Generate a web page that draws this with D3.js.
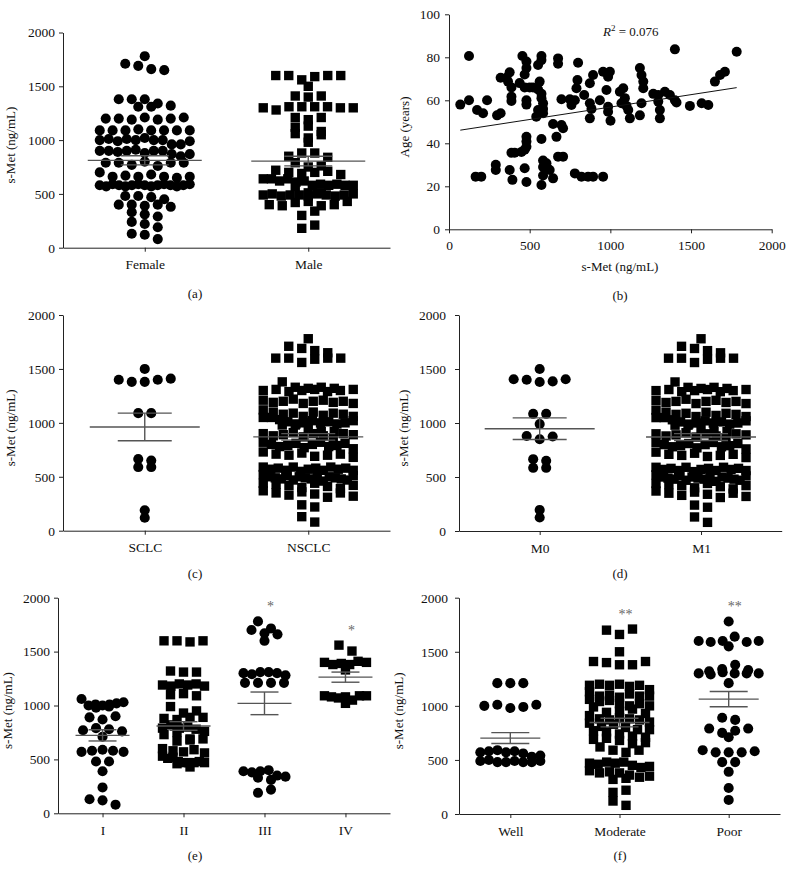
<!DOCTYPE html>
<html>
<head>
<meta charset="utf-8">
<script src="https://cdn.jsdelivr.net/npm/d3@7"></script>
<style>
  body { margin: 0; background: #fff; }
  svg { display: block; font-family: "Liberation Serif", "DejaVu Serif", serif; }
</style>
</head>
<body>
<div id="chart"></div>
<script>
// ---- data ----
var yTicks = [0, 500, 1000, 1500, 2000];

// (a) sex
var sexCats = ["Female", "Male"];
var femaleValues = [1780, 1710, 1690, 1660, 1650,
  1380, 1380, 1380, 1340, 1320, 1310, 1310,
  1200, 1200, 1190, 1210, 1190, 1200, 1210,
  1090, 1090, 1090, 1100, 1090, 1090, 1090, 1090,
  1000, 1010, 990, 1010, 1000, 1020, 1000, 1000, 960, 960, 990,
  900, 900, 890, 900, 910, 880, 900, 900, 870, 850, 870,
  790, 790, 770, 800, 760, 790, 790,
  700, 660, 670, 660, 680, 660, 650, 660,
  580, 570, 590, 580, 570, 580, 590, 580, 570, 580, 590, 580, 570, 580, 590,
  480, 480, 470, 450,
  400, 400, 390, 400, 380,
  330, 310, 290, 240, 220, 190, 130, 120, 80];
var maleValues = [1600, 1600, 1560, 1500, 1590, 1600, 1600,
  1410, 1400, 1410,
  1300, 1280, 1310, 1310, 1310, 1310, 1300, 1300,
  1210, 1190, 1210,
  1120, 1130, 1060, 1020, 1050, 980, 1080,
  850, 880, 880, 840,
  790, 750, 760,
  720, 700, 690, 700, 710, 680,
  640, 640, 620, 640, 610, 620,
  580, 590, 580, 590, 580, 580, 570,
  490, 500, 480, 490, 510, 490, 480, 500, 490, 480, 510, 490, 500,
  400, 390, 420, 430, 390, 400, 430,
  300, 340, 180, 210];
var sexMeans = [812, 805];
var sexSems = [42, 45];

// (b) age vs s-Met
var scatterMet = [70, 124, 124, 174, 211, 236, 298, 320, 165, 200, 290, 290, 320, 356, 376, 366,
  387, 387, 387, 387, 407, 376, 393, 449, 469, 480, 480, 480, 469, 480, 455, 480, 480, 469,
  438, 469, 500, 480, 480, 521, 552, 573, 573, 552, 541, 573, 573, 552, 562, 583, 583, 583,
  573, 583, 604, 583, 614, 583, 573, 624, 645, 645, 666, 676, 707, 676, 676, 697, 707, 697,
  749, 759, 780, 800, 780, 821, 862, 893, 955, 790, 796, 838, 873, 893, 873, 883, 873, 935,
  955, 986, 997, 976, 986, 986, 1001, 1059, 1069, 1080, 1090, 1100, 1111, 1121, 1183, 1193,
  1204, 1204, 1193, 1183, 1266, 1297, 1297, 1307, 1307, 1338, 1369, 1400, 1410, 1400, 1493,
  1566, 1607, 1648, 1680, 1710, 1783];
var scatterAge = [58, 80.6, 60, 55.5, 54, 60, 53, 54, 24.5, 24.5, 30, 27.6, 70.5, 70.5, 73, 68.7,
  66, 61.7, 59.7, 35.6, 35.6, 27.6, 23, 36, 37, 38.4, 40.8, 43, 28.4, 22, 80.6, 78, 75, 72,
  68, 66, 66, 60, 58, 66, 65, 63, 61, 55.5, 52.4, 80.6, 78.7, 76.4, 68.7, 58.6, 56, 54,
  42, 32, 30.7, 29, 28, 25, 20.6, 27.6, 23.7, 49, 43, 33.8, 33.8, 79.5, 77, 48.5, 47, 60.5,
  60.5, 57.8, 60, 77.5, 26, 24.5, 24.5, 24.5, 24.5, 65.6, 69.4, 62.5, 67.9, 71.8, 58.6, 56, 51.6, 60,
  73.3, 71, 73.3, 64.8, 57, 54.7, 50.5, 64, 58.6, 65.6, 61, 57.4, 55.5, 51.6, 75, 71.8,
  68.7, 65.6, 58.6, 53, 63, 62.5, 59.4, 55.5, 51.6, 64, 62.5, 60, 59, 83.7, 57.4,
  58.6, 57.8, 68.7, 71.8, 73.3, 82.6];
var fitSlope = 0.01155;
var fitIntercept = 45.3;
var fitR2 = "0.076";
var ageTicks = [0, 20, 40, 60, 80, 100];
var metTicks = [0, 500, 1000, 1500, 2000];

// (c) histology
var typeCats = ["SCLC", "NSCLC"];
var sclcValues = [1500, 1400, 1380, 1380, 1400, 1410, 1090, 1090, 665, 590, 590, 650, 120, 190];
var nsclcValues = [1780, 1710, 1690, 1670, 1650, 1600, 1600, 1560, 1590, 1600, 1600,
  1380,
  1330, 1300, 1310, 1320, 1290, 1300, 1330, 1310, 1290, 1300, 1320, 1310,
  1210, 1190, 1200, 1220, 1180, 1200, 1210, 1190, 1200, 1180, 1120,
  1100, 1080, 1050, 1090, 1060, 1100, 1070, 1050, 1090, 1080, 1060, 1030,
  1010, 990, 1000, 1020, 980, 1000, 1010, 990, 1000, 980, 1020, 950,
  920, 900, 880, 890, 910, 870, 900, 920, 880, 860, 900, 890,
  820, 800, 780, 790, 810, 770, 800, 820, 780, 790, 810, 760,
  730, 710, 700, 720, 690, 700, 710, 680,
  590, 570, 580, 560, 590, 550, 570, 580, 560, 590, 570, 580, 560,
  520, 500, 490, 480, 510, 470, 500, 490, 480, 510, 460, 500, 490, 480, 470, 510,
  440, 430, 420, 400, 440, 410, 390, 420,
  370, 350, 330, 360, 340, 310, 350, 320,
  240, 220, 130, 80];
var typeMeans = [962, 870];
var typeSems = [128, 30];

// (d) metastasis
var mCats = ["M0", "M1"];
var m0Values = [1405, 1400, 1380, 1385, 1405, 1500, 1085, 1085, 990, 880, 850, 875, 665, 585, 585, 650, 125, 195];
var m1Values = [1780, 1710, 1690, 1670, 1650, 1600, 1600, 1560, 1590, 1600, 1600,
  1380,
  1330, 1300, 1310, 1320, 1290, 1300, 1330, 1310, 1290, 1300, 1320, 1310,
  1210, 1190, 1200, 1220, 1180, 1200, 1210, 1190, 1200, 1180, 1120,
  1100, 1080, 1050, 1090, 1060, 1100, 1070, 1050, 1090, 1080, 1060, 1030,
  1010, 990, 1000, 1020, 980, 1000, 1010, 990, 1000, 980, 1020, 950,
  920, 900, 880, 890, 910, 870, 900, 920, 880, 860, 900, 890,
  820, 800, 780, 790, 810, 770, 800, 820, 780, 790, 810, 760,
  730, 710, 700, 720, 690, 700, 710, 680,
  590, 570, 580, 560, 590, 550, 570, 580, 560, 590, 570, 580, 560,
  520, 500, 490, 480, 510, 470, 500, 490, 480, 510, 460, 500, 490, 480, 470, 510,
  440, 430, 420, 400, 440, 410, 390, 420,
  370, 350, 330, 360, 340, 310, 350, 320,
  240, 220, 130, 80];
var mMeans = [947, 870];
var mSems = [100, 32];

// (e) stage
var stageCats = ["I", "II", "III", "IV"];
var stage1Values = [1060, 980, 1000, 1010, 990, 1000, 1010, 1020, 1030, 890, 870, 900,
  770, 790, 780, 760, 710, 570, 580, 590, 580, 570, 480, 480, 390, 240, 130, 120, 80];
var stage2Values = [1600, 1600, 1590, 1600, 1320, 1310, 1310,
  1190, 1180, 1200, 1190, 1200, 1180, 1100, 1110, 1090, 990, 930, 950,
  880, 870, 890, 890, 790, 820, 790, 800, 780, 760, 730, 750,
  690, 670, 690, 680, 600, 580, 570, 590, 560, 530, 510, 520,
  480, 470, 470, 460, 470, 480, 470, 430];
var stage3Values = [1780, 1715, 1700, 1670, 1660, 1600,
  1300, 1290, 1310, 1310, 1300, 1280, 1210, 1210, 1210, 1210,
  390, 380, 390, 400, 330, 310, 350, 340, 190, 220];
var stage4Values = [1560, 1505, 1400, 1380, 1390, 1330, 1380, 1410, 1400,
  1090, 1080, 1070, 1020, 1080, 1050, 1090, 1090];
var stageMeans = [723, 810, 1020, 1263];
var stageSems = [52, 40, 105, 47];
var stageStars = ["", "", "*", "*"];

// (f) differentiation
var gradeCats = ["Well", "Moderate", "Poor"];
var wellValues = [1210, 1210, 1210, 1000, 1010, 980, 990, 1010,
  570, 580, 590, 570, 580, 560, 490, 500, 480, 480, 490, 480, 480, 490, 530, 540];
var moderateValues = [1700, 1660, 1710, 1500, 1410, 1400, 1380, 1380, 1410,
  1190, 1200, 1190, 1200, 1180, 1190, 1150, 1130,
  1090, 1100, 1080, 1110, 1090, 1090, 1060, 1040, 1050,
  1020, 1000, 1020, 990, 1000, 940, 950, 970, 930, 910,
  880, 870, 890, 880, 870, 850, 840, 810, 830, 800,
  770, 780, 760, 780, 740, 720, 690, 700, 710, 680, 650, 660, 620,
  590, 570, 590, 470, 460, 480, 470, 480, 450, 430, 440,
  400, 380, 390, 380, 360, 340, 320, 350, 330, 200, 220, 120, 80];
var poorValues = [1780, 1600, 1590, 1600, 1550, 1640, 1590, 1600,
  1300, 1320, 1290, 1340, 1310, 1380, 1300, 1300, 1330, 1300, 1210,
  890, 870, 790, 750, 710, 770, 790, 590, 570, 570, 570, 580, 480, 480, 390, 240, 130];
var gradeMeans = [702, 846, 1062];
var gradeSems = [50, 40, 70];
var gradeStars = ["", "**", "**"];

// ---- drawing ----
var svg = d3.select("#chart").append("svg")
    .attr("width", 792)
    .attr("height", 870);
svg.append("rect").attr("width", 792).attr("height", 870).attr("fill", "#fff");

var fontFam = "Liberation Serif, DejaVu Serif, serif";
var markSize = 10;
var plain = d3.format("d");

// prism-like scatter: points close in value share a row, rows spread evenly
function swarm(values, y, maxHalf) {
    var items = values.map(function(v, i) { return {v: v, i: i}; });
    items.sort(function(a, b) { return b.v - a.v || a.i - b.i; });
    var rows = [];
    var row = null;
    items.forEach(function(d) {
        if (!row || y(d.v) - y(row[0].v) > markSize * 0.75) {
            row = [d];
            rows.push(row);
        } else {
            row.push(d);
        }
    });
    var out = [];
    rows.forEach(function(r) {
        r.sort(function(a, b) { return a.i - b.i; });
        var n = r.length;
        var step = n > 1 ? Math.min(markSize * 1.3, 2 * maxHalf / (n - 1)) : 0;
        r.forEach(function(d, k) {
            out.push({v: d.v, dx: (k - (n - 1) / 2) * step});
        });
    });
    return out;
}

function styleAxis(sel) {
    sel.attr("font-family", fontFam).attr("font-size", 13.5);
    sel.selectAll("path, line").attr("stroke", "#222");
    sel.selectAll("text").attr("fill", "#111");
}

function yTitle(g, text, x, yMid) {
    g.append("text")
        .attr("transform", "translate(" + x + "," + yMid + ") rotate(-90)")
        .attr("text-anchor", "middle")
        .attr("font-size", 13)
        .attr("fill", "#111")
        .text(text);
}

function caption(g, text, x, y) {
    g.append("text")
        .attr("x", x).attr("y", y)
        .attr("text-anchor", "middle")
        .attr("font-size", 13)
        .attr("fill", "#111")
        .text(text);
}

function dotPanel(p) {
    var g = svg.append("g");
    var x = d3.scalePoint().domain(p.cats).range([p.left, p.right]).padding(p.pad);
    var y = d3.scaleLinear().domain([0, 2000]).range([p.bottom, p.top]);

    g.append("g")
        .attr("transform", "translate(" + p.left + ",0)")
        .call(d3.axisLeft(y).tickValues(yTicks).tickFormat(plain)
            .tickSize(4).tickPadding(p.tickPad).tickSizeOuter(0))
        .call(styleAxis);
    g.append("g")
        .attr("transform", "translate(0," + p.bottom + ")")
        .call(d3.axisBottom(x).tickSize(4).tickPadding(8).tickSizeOuter(0))
        .call(styleAxis);

    yTitle(g, "s-Met (ng/mL)", p.left - p.titleOff, (p.top + p.bottom) / 2 + 5);

    p.cats.forEach(function(cat, ci) {
        var cx = x(cat);
        var shape = p.shapes[ci] === "square" ? d3.symbolSquare : d3.symbolCircle;
        var sym = d3.symbol().type(shape).size(p.shapes[ci] === "square" ? 88 : 80);
        var pts = swarm(p.groups[ci], y, p.spread);
        g.append("g").selectAll("path")
            .data(pts)
            .enter()
            .append("path")
            .attr("d", sym)
            .attr("transform", function(d) {
                return "translate(" + (cx + d.dx) + "," + y(d.v) + ")";
            })
            .attr("fill", "#000");

        var m = p.means[ci], s = p.sems[ci];
        var lg = g.append("g").attr("stroke", "#555").attr("stroke-width", 1.4);
        lg.append("line").attr("x1", cx - p.meanHalf).attr("x2", cx + p.meanHalf)
            .attr("y1", y(m)).attr("y2", y(m));
        lg.append("line").attr("x1", cx).attr("x2", cx)
            .attr("y1", y(m - s)).attr("y2", y(m + s));
        [m - s, m + s].forEach(function(v) {
            lg.append("line").attr("x1", cx - p.capHalf).attr("x2", cx + p.capHalf)
                .attr("y1", y(v)).attr("y2", y(v));
        });

        if (p.stars && p.stars[ci]) {
            g.append("text")
                .attr("x", cx + 6)
                .attr("y", y(d3.max(p.groups[ci])) - 10)
                .attr("text-anchor", "middle")
                .attr("font-size", 14)
                .attr("fill", "#666")
                .text(p.stars[ci]);
        }
    });

    caption(g, p.caption, p.capX, p.capY);
}

// (a)
dotPanel({cats: sexCats, groups: [femaleValues, maleValues], shapes: ["circle", "square"],
    means: sexMeans, sems: sexSems, left: 63, right: 390, top: 32.5, bottom: 247.7, pad: 0.5,
    tickPad: 4, titleOff: 48, spread: 45, meanHalf: 57, capHalf: 24,
    caption: "(a)", capX: 195, capY: 297.5});

// (c)
dotPanel({cats: typeCats, groups: [sclcValues, nsclcValues], shapes: ["circle", "square"],
    means: typeMeans, sems: typeSems, left: 63, right: 390, top: 315, bottom: 530.7, pad: 0.5,
    tickPad: 4, titleOff: 48, spread: 45, meanHalf: 55, capHalf: 27,
    caption: "(c)", capX: 195, capY: 577.5});

// (d)
dotPanel({cats: mCats, groups: [m0Values, m1Values], shapes: ["circle", "square"],
    means: mMeans, sems: mSems, left: 459, right: 781.7, top: 315, bottom: 531, pad: 0.5,
    tickPad: 9, titleOff: 51, spread: 45, meanHalf: 55, capHalf: 27,
    caption: "(d)", capX: 620, capY: 577.5});

// (e)
dotPanel({cats: stageCats, groups: [stage1Values, stage2Values, stage3Values, stage4Values],
    shapes: ["circle", "square", "circle", "square"],
    means: stageMeans, sems: stageSems, stars: stageStars,
    left: 58, right: 390, top: 597.7, bottom: 813.3, pad: 0.55,
    tickPad: 4, titleOff: 46, spread: 21, meanHalf: 27, capHalf: 14,
    caption: "(e)", capX: 195, capY: 859.5});

// (f)
dotPanel({cats: gradeCats, groups: [wellValues, moderateValues, poorValues],
    shapes: ["circle", "square", "circle"],
    means: gradeMeans, sems: gradeSems, stars: gradeStars,
    left: 459, right: 780, top: 597.7, bottom: 814, pad: 0.47,
    tickPad: 7, titleOff: 56, spread: 30, meanHalf: 30, capHalf: 19,
    caption: "(f)", capX: 620, capY: 859.5});

// (b) scatter with regression line
(function() {
    var g = svg.append("g");
    var x = d3.scaleLinear().domain([0, 2000]).range([449, 771.7]);
    var y = d3.scaleLinear().domain([0, 100]).range([229.3, 14.3]);

    g.append("g")
        .attr("transform", "translate(449,0)")
        .call(d3.axisLeft(y).tickValues(ageTicks).tickFormat(plain)
            .tickSize(4).tickPadding(5).tickSizeOuter(0))
        .call(styleAxis);
    g.append("g")
        .attr("transform", "translate(0,229.3)")
        .call(d3.axisBottom(x).tickValues(metTicks).tickFormat(plain)
            .tickSize(4).tickPadding(7).tickSizeOuter(0))
        .call(styleAxis);

    yTitle(g, "Age (years)", 409, 127);
    g.append("text")
        .attr("x", 620).attr("y", 271)
        .attr("text-anchor", "middle")
        .attr("font-size", 13)
        .attr("fill", "#111")
        .text("s-Met (ng/mL)");

    var pts = scatterMet.map(function(v, i) { return [v, scatterAge[i]]; });
    g.append("g").selectAll("circle")
        .data(pts)
        .enter()
        .append("circle")
        .attr("cx", function(d) { return x(d[0]); })
        .attr("cy", function(d) { return y(d[1]); })
        .attr("r", 5)
        .attr("fill", "#000");

    var ext = d3.extent(scatterMet);
    var line = d3.line()
        .x(function(d) { return x(d); })
        .y(function(d) { return y(fitIntercept + fitSlope * d); });
    g.append("path")
        .datum(ext)
        .attr("d", line)
        .attr("fill", "none")
        .attr("stroke", "#111")
        .attr("stroke-width", 1);

    var r2 = g.append("text")
        .attr("x", 603).attr("y", 36)
        .attr("font-size", 13)
        .attr("fill", "#111");
    r2.append("tspan").attr("font-style", "italic").text("R");
    r2.append("tspan").attr("font-size", 9).attr("dy", -5).text("2");
    r2.append("tspan").attr("dy", 5).text(" = " + fitR2);

    caption(g, "(b)", 620, 299.5);
})();
</script>
</body>
</html>
